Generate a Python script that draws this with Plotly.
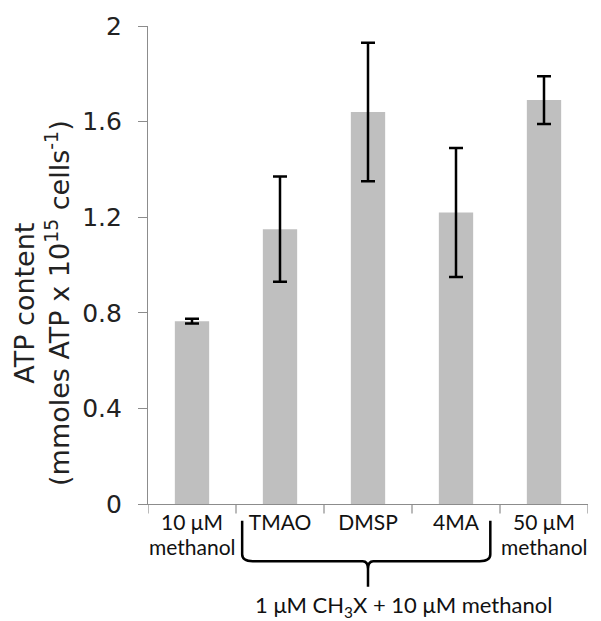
import plotly.graph_objects as go

categories = ["10 μM<br>methanol", "TMAO", "DMSP", "4MA", "50 μM<br>methanol"]
atp_values = [0.765, 1.15, 1.64, 1.22, 1.69]
atp_errors = [0.01, 0.22, 0.29, 0.27, 0.10]
y_ticks = [0, 0.4, 0.8, 1.2, 1.6, 2.0]
y_tick_labels = ["0", "0.4", "0.8", "1.2", "1.6", "2"]
y_title = "ATP content<br>(mmoles ATP x 10<sup>15</sup> cells<sup>-1</sup>)"
group_label = "1 μM CH<sub>3</sub>X + 10 μM methanol"

x_idx = list(range(len(categories)))
first_lines = [c.split("<br>")[0] for c in categories]
second_lines = [c.split("<br>")[1] if "<br>" in c else "" for c in categories]

fig = go.Figure()
fig.add_trace(go.Bar(
    x=x_idx, y=atp_values,
    marker=dict(color="#bfbfbf", line=dict(width=0)),
    error_y=dict(type="data", array=atp_errors, visible=True,
                 color="black", thickness=2.5, width=7),
    width=0.39,
))

lbl_font = dict(family="Lato", size=21, color="#111")

fig.update_layout(
    width=601, height=621,
    margin=dict(l=148, r=13, t=19, b=117),
    plot_bgcolor="white", paper_bgcolor="white",
    showlegend=False,
    xaxis=dict(
        range=[-0.5, 4.5],
        tickmode="array", tickvals=x_idx, ticktext=first_lines,
        showline=True, linecolor="#8c8c8c", linewidth=1.2,
        ticks="", showgrid=False, zeroline=False,
        tickfont=lbl_font,
    ),
    yaxis=dict(
        range=[0, 2.0],
        tickmode="array", tickvals=y_ticks, ticktext=y_tick_labels,
        showline=True, linecolor="#8c8c8c", linewidth=1.2,
        ticks="outside", ticklen=9, tickcolor="#8c8c8c", tickwidth=1.2,
        ticklabelstandoff=11,
        showgrid=False, zeroline=False,
        tickfont=dict(family="DejaVu Sans", size=25, color="#222"),
    ),
)

def pp(pix_y):
    # converts a pixel row of the page into paper units of the plot area
    return (504 - pix_y) / 485.0

def px(pix_x):
    return (pix_x - 148) / 440.0

# y-axis title (placed slightly below centre, as in the reference)
fig.add_annotation(text=y_title, textangle=-90, xref="paper", yref="paper",
                   x=px(42), y=pp(300), xanchor="center", yanchor="middle",
                   showarrow=False,
                   font=dict(family="DejaVu Sans", size=27, color="#222"))

# second lines of the category labels
for xi, txt in zip(x_idx, second_lines):
    if txt:
        fig.add_annotation(text=txt, xref="x", yref="paper", x=xi, y=pp(547),
                           yanchor="middle", showarrow=False, font=lbl_font)

# category boundary ticks on x axis
for b in [-0.5, 0.5, 1.5, 2.5, 3.5, 4.5]:
    fig.add_shape(type="line", xref="x", yref="paper", x0=b, x1=b, y0=0, y1=-0.02,
                  line=dict(color="#8c8c8c", width=1.2))

left, right, mid = 0.57, 3.39, 2.0
ytop, ymid, ybot = pp(521), pp(562), pp(588)
r = 0.12
path = (f"M {left},{ytop} L {left},{pp(555)} Q {left},{ymid} {left+r},{ymid} "
        f"L {mid-0.06},{ymid} Q {mid},{ymid} {mid},{pp(570)} L {mid},{ybot} "
        f"M {mid},{pp(570)} Q {mid},{ymid} {mid+0.06},{ymid} "
        f"L {right-r},{ymid} Q {right},{ymid} {right},{pp(555)} L {right},{ytop}")
fig.add_shape(type="path", xref="x", yref="paper", path=path,
              line=dict(color="black", width=2.5))

fig.add_annotation(
    text=group_label,
    xref="x", yref="paper", x=2.4, y=pp(607), yanchor="middle", showarrow=False,
    font=dict(family="Lato", size=22, color="#111"),
)

fig.write_html("out.html")
